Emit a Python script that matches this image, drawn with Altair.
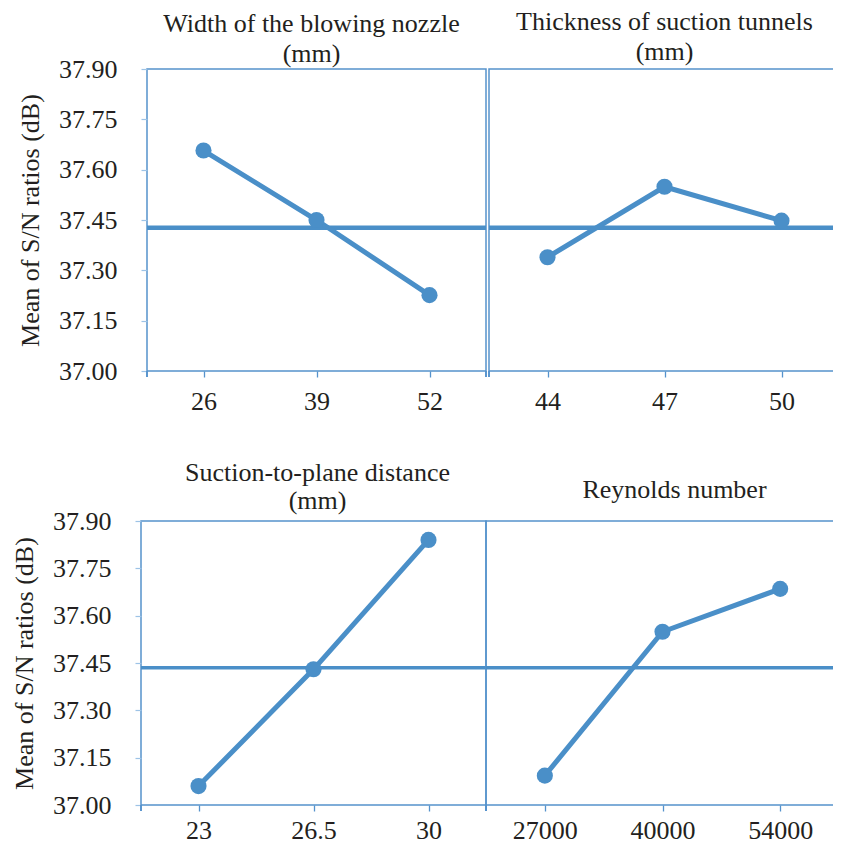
import altair as alt
import pandas as pd

# ---------------- data ----------------
title_width = ["Width of the blowing nozzle", "(mm)"]
title_thick = ["Thickness of suction tunnels", "(mm)"]
title_dist = ["Suction-to-plane distance", "(mm)"]
title_re = "Reynolds number"

levels_width = ["26", "39", "52"]
sn_width = [37.657, 37.450, 37.226]

levels_thick = ["44", "47", "50"]
sn_thick = [37.339, 37.549, 37.448]

levels_dist = ["23", "26.5", "30"]
sn_dist = [37.060, 37.430, 37.840]

levels_re = ["27000", "40000", "54000"]
sn_re = [37.093, 37.549, 37.685]

mean_top = 37.427
mean_bottom = 37.435

y_ticks = [37.00, 37.15, 37.30, 37.45, 37.60, 37.75, 37.90]
y_title = "Mean of S/N ratios (dB)"

# ---------------- style ----------------
FONT = "Liberation Serif"
TEXT = "#231F20"
BLUE = "#4A8FC8"
FRAME = "#5592CC"
XTICK = "#5592CC"
YTICK = "#9DC3E6"
FS = 26


def panel(levels, values, mean, title, width, height, show_y, t_offset, t_lh,
          t_dx, x_lpad, mean_w):
    df = pd.DataFrame({"level": levels, "sn": values})
    xenc = alt.X(
        "level:N",
        sort=levels,
        scale=alt.Scale(type="point", padding=0.5),
        axis=alt.Axis(
            title=None, labelAngle=0, domain=False, grid=False,
            tickSize=6, tickColor=XTICK, tickWidth=1.3,
            labelPadding=x_lpad, labelFont=FONT, labelFontSize=FS,
            labelColor=TEXT,
        ),
    )
    yscale = alt.Scale(domain=[37.0, 37.9], nice=False, zero=False)
    if show_y:
        yaxis = alt.Axis(
            title=y_title, values=y_ticks, format=".2f", domain=False,
            grid=False, tickSize=6, tickColor=YTICK, tickWidth=1.2,
            labelPadding=24, labelFont=FONT, labelFontSize=FS,
            labelColor=TEXT, titleFont=FONT, titleFontSize=FS,
            titleFontWeight="normal", titleColor=TEXT, titlePadding=15,
        )
        yenc = alt.Y("sn:Q", scale=yscale, axis=yaxis)
    else:
        yenc = alt.Y("sn:Q", scale=yscale, axis=None)

    base = alt.Chart(df)
    line = base.mark_line(color=BLUE, strokeWidth=5).encode(x=xenc, y=yenc)
    pts = base.mark_circle(color=BLUE, size=260, opacity=1).encode(x=xenc, y=yenc)
    mean_rule = (
        alt.Chart(pd.DataFrame({"sn": [mean]}))
        .mark_rule(color=BLUE, strokeWidth=mean_w)
        .encode(y=yenc)
    )
    edge_l = alt.Chart(df).mark_rule(color=XTICK, strokeWidth=1.3).encode(
        x=alt.value(0), y=alt.value(height), y2=alt.value(height + 6)
    )
    edge_r = alt.Chart(df).mark_rule(color=XTICK, strokeWidth=1.3).encode(
        x=alt.value(width), y=alt.value(height), y2=alt.value(height + 6)
    )
    return alt.layer(mean_rule, line, pts, edge_l, edge_r).properties(
        width=width,
        height=height,
        title=alt.TitleParams(
            text=title, font=FONT, fontSize=FS, fontWeight="normal",
            color=TEXT, lineHeight=t_lh, offset=t_offset, anchor="middle",
            dx=t_dx, frame="group",
        ),
    )


p1 = panel(levels_width, sn_width, mean_top, title_width, 339, 302, True, -11, 30, -5, 11, 4.5)
p2 = panel(levels_thick, sn_thick, mean_top, title_thick, 351, 302, False, 4, 30, 0, 11, 4.5)
p3 = panel(levels_dist, sn_dist, mean_bottom, title_dist, 345, 284, True, -6, 28, 4, 6, 3.5)
p4 = panel(levels_re, sn_re, mean_bottom, title_re, 353, 284, False, 18, 28, 12, 6, 3.5)

spacer = (
    alt.Chart(pd.DataFrame({"v": [0]}))
    .mark_point(opacity=0)
    .encode(x=alt.value(0), y=alt.value(0))
    .properties(width=3, height=302, view=alt.ViewBackground(stroke="transparent"))
)

top = alt.hconcat(spacer, p1, p2, spacing=3, bounds="flush")
bottom = alt.hconcat(p3, p4, spacing=0, bounds="flush")

chart = (
    alt.vconcat(top, bottom, spacing=452, bounds="flush")
    .properties(padding={"left": 2, "top": 0, "right": -10, "bottom": -5})
    .configure_view(stroke=FRAME, strokeWidth=1.5)
)

chart.save("out.html", embed_options={"renderer": "svg", "actions": False})
